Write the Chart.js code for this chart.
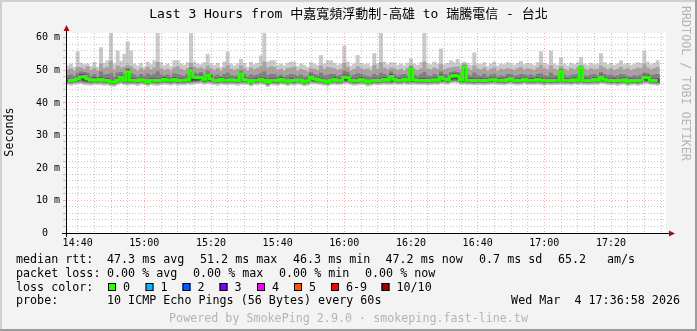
<!DOCTYPE html>
<html>
<head>
<meta charset="utf-8">
<script src="https://cdn.jsdelivr.net/npm/chart.js@4.4.1/dist/chart.umd.min.js"></script>
<style>
  html, body { margin: 0; padding: 0; background: #f3f3f3; }
  #wrap { width: 697px; height: 331px; }
</style>
</head>
<body>
<div id="wrap"><canvas id="grafico" width="697" height="331"></canvas></div>
<script>
// one slot per minute, 14:37 .. 17:36
const START_MIN = 14 * 60 + 37;
const SLOTS = 180;
const X_TICKS = ['14:40', '15:00', '15:20', '15:40', '16:00', '16:20', '16:40', '17:00', '17:20'];
const Y_TICKS = [0, 10, 20, 30, 40, 50, 60];
const Y_MINOR_STEP = 2;

// median rtt (ms)
const MEDIAN = [
  46.9, 46.9, 47.1, 47.4, 48.0, 48.1, 47.4, 47.0, 47.1, 47.0, 47.2, 47.0, 46.9, 46.5, 46.4, 47.0, 47.9, 47.0, 49.6, 47.0,
  47.0, 46.8, 47.1, 47.0, 46.6, 47.0, 47.0, 46.8, 47.0, 47.2, 47.0, 47.0, 47.2, 46.9, 47.0, 47.0, 47.1, 50.0, 48.0, 47.8,
  48.0, 47.3, 48.6, 47.4, 47.0, 46.9, 47.2, 47.0, 47.0, 47.1, 47.0, 46.9, 49.0, 47.2, 47.0, 46.6, 47.0, 47.0, 47.3, 47.0,
  46.4, 47.0, 47.0, 46.8, 47.2, 47.0, 46.7, 47.0, 46.9, 47.1, 47.0, 46.6, 46.8, 48.0, 47.4, 47.2, 47.0, 46.8, 46.6, 47.0,
  47.2, 46.9, 47.0, 48.0, 47.8, 47.0, 46.8, 46.9, 47.2, 47.0, 46.6, 46.8, 47.0, 46.9, 47.0, 47.2, 47.0, 48.1, 47.3, 47.0,
  47.0, 47.3, 47.0, 50.4, 47.1, 47.0, 47.0, 47.0, 46.9, 47.0, 47.1, 47.0, 48.0, 47.4, 47.2, 48.2, 48.4, 48.3, 47.2, 51.1,
  47.0, 47.0, 46.9, 47.0, 47.0, 46.9, 47.0, 47.1, 47.3, 47.0, 47.0, 46.9, 47.2, 47.5, 47.0, 46.9, 47.0, 47.3, 47.0, 47.0,
  47.0, 47.2, 47.0, 46.8, 47.0, 46.9, 47.0, 47.0, 49.7, 47.0, 47.0, 46.9, 47.1, 47.0, 50.8, 47.0, 46.9, 47.0, 47.2, 47.0,
  48.0, 47.3, 47.0, 46.9, 47.0, 46.8, 47.0, 47.1, 46.7, 46.9, 47.0, 46.8, 47.0, 48.0, 47.8, 47.0, 46.9, 46.8, null, null
];

// sorted pings per minute (ms): max, 9th, 8th, 7th, 4th, 3rd, 2nd, min
const PING_MAX = [
  51.5, 52.0, 51.0, 55.7, 52.3, 51.8, 52.0, 51.2, 52.5, 51.0, 57.0, 52.2, 53.0, 61.6, 52.0, 56.0, 52.8, 55.0, 58.8, 56.0,
  52.0, 51.4, 52.2, 51.0, 52.6, 51.8, 53.0, 61.6, 52.4, 51.5, 52.0, 51.2, 53.0, 53.0, 52.0, 51.6, 52.4, 61.6, 52.6, 52.0,
  51.8, 52.4, 55.0, 52.0, 51.5, 52.2, 51.0, 52.6, 55.7, 52.0, 51.4, 52.0, 53.4, 52.2, 51.0, 52.5, 51.8, 52.2, 54.5, 61.6,
  52.6, 53.0, 53.0, 51.6, 52.0, 51.4, 52.2, 52.6, 52.6, 51.2, 52.0, 51.6, 51.0, 52.4, 52.0, 51.5, 54.6, 52.0, 53.0, 53.0,
  52.2, 51.6, 52.0, 57.5, 52.6, 51.4, 52.0, 54.6, 52.2, 51.8, 52.0, 51.2, 55.2, 52.0, 61.6, 52.6, 51.8, 52.4, 52.3, 51.6,
  52.0, 51.4, 52.2, 53.6, 52.0, 51.6, 52.4, 61.6, 52.0, 51.8, 52.6, 52.0, 56.6, 51.8, 52.2, 53.0, 52.4, 53.4, 52.0, 52.6,
  52.2, 51.6, 55.4, 52.0, 51.8, 52.4, 51.2, 52.0, 52.6, 51.4, 52.0, 51.8, 52.4, 52.0, 51.6, 52.2, 52.8, 51.8, 52.2, 52.0,
  51.6, 52.4, 55.8, 52.2, 51.8, 56.0, 52.0, 51.6, 53.9, 52.0, 51.4, 52.2, 51.8, 52.4, 54.0, 52.0, 51.6, 52.2, 51.8, 52.0,
  55.2, 52.4, 51.8, 52.2, 51.6, 52.0, 53.0, 51.8, 52.2, 51.6, 52.0, 52.4, 52.2, 56.0, 52.6, 51.8, 52.2, 53.0, null, null
];
const PING_9 = [
  50.2, 50.5, 49.8, 51.0, 50.8, 50.4, 51.2, 50.0, 50.6, 49.8, 52.0, 50.6, 51.0, 52.8, 50.2, 51.4, 50.8, 51.0, 51.6, 51.2,
  50.4, 49.8, 50.6, 50.0, 51.0, 50.2, 50.8, 52.5, 50.6, 50.0, 50.4, 49.8, 50.8, 51.2, 50.4, 50.0, 50.6, 52.2, 51.0, 50.6,
  50.8, 50.4, 51.4, 50.6, 50.0, 50.6, 49.8, 50.8, 51.6, 50.4, 50.0, 50.4, 51.4, 50.6, 49.8, 50.8, 50.2, 50.6, 51.2, 52.6,
  50.8, 51.2, 51.0, 50.0, 50.4, 49.8, 50.6, 50.8, 51.0, 49.8, 50.4, 50.0, 49.6, 50.6, 50.4, 50.0, 51.4, 50.4, 51.0, 50.8,
  50.6, 50.0, 50.4, 52.2, 51.0, 49.8, 50.4, 51.2, 50.6, 50.2, 50.4, 49.8, 51.6, 50.4, 52.4, 50.8, 50.2, 50.8, 50.6, 50.0,
  50.4, 49.8, 50.6, 51.6, 50.4, 50.0, 50.6, 52.6, 50.4, 50.2, 50.8, 50.4, 51.8, 50.2, 50.6, 50.8, 51.0, 51.2, 50.4, 52.0,
  50.6, 50.0, 51.4, 50.4, 50.2, 50.8, 49.8, 50.4, 50.8, 49.8, 50.4, 50.2, 50.6, 50.4, 50.0, 50.6, 51.0, 50.2, 50.6, 50.4,
  50.0, 50.8, 51.6, 50.6, 50.2, 51.4, 50.4, 50.0, 51.2, 50.4, 49.8, 50.6, 50.2, 50.8, 51.6, 50.4, 50.0, 50.6, 50.2, 50.4,
  51.4, 50.8, 50.2, 50.6, 50.0, 50.4, 51.0, 50.2, 50.6, 50.0, 50.4, 50.8, 50.6, 51.8, 50.8, 50.2, 50.6, 51.0, null, null
];
const PING_8 = [
  48.4, 48.6, 48.2, 49.0, 49.6, 49.4, 49.2, 48.2, 48.8, 48.0, 49.6, 48.6, 48.8, 49.0, 48.0, 49.2, 49.4, 48.8, 50.6, 49.0,
  48.6, 48.0, 48.8, 48.2, 49.0, 48.4, 48.8, 49.6, 48.6, 48.2, 48.6, 48.0, 49.0, 48.8, 48.4, 48.2, 48.8, 50.8, 49.2, 49.0,
  49.4, 48.6, 49.8, 48.8, 48.2, 48.6, 48.0, 48.8, 49.2, 48.4, 48.2, 48.4, 49.8, 48.8, 48.0, 48.6, 48.4, 48.6, 49.0, 49.6,
  48.4, 48.8, 48.8, 48.2, 48.6, 48.0, 48.4, 48.8, 48.6, 48.2, 48.6, 48.0, 48.2, 49.4, 48.8, 48.4, 49.2, 48.4, 48.6, 48.8,
  48.8, 48.2, 48.6, 49.8, 49.4, 48.2, 48.6, 49.0, 48.8, 48.4, 48.2, 48.0, 48.8, 48.4, 49.2, 48.8, 48.4, 49.6, 48.8, 48.2,
  48.6, 48.8, 48.4, 51.0, 48.6, 48.2, 48.8, 49.4, 48.4, 48.2, 48.8, 48.4, 49.6, 48.8, 48.6, 49.4, 49.6, 49.4, 48.6, 51.6,
  48.6, 48.2, 49.2, 48.4, 48.2, 48.8, 48.0, 48.6, 48.8, 48.0, 48.4, 48.2, 48.8, 48.8, 48.2, 48.4, 48.8, 48.6, 48.4, 48.6,
  48.2, 48.8, 49.0, 48.4, 48.2, 49.2, 48.4, 48.2, 50.4, 48.6, 48.0, 48.4, 48.6, 48.8, 51.2, 48.4, 48.2, 48.6, 48.8, 48.4,
  49.4, 48.8, 48.4, 48.6, 48.2, 48.4, 48.8, 48.6, 48.2, 48.0, 48.4, 48.2, 48.6, 49.2, 49.0, 48.4, 48.6, 48.8, null, null
];
const PING_7 = [
  47.4, 47.3, 47.6, 48.0, 48.8, 48.7, 47.8, 47.4, 47.8, 47.4, 47.8, 47.4, 47.5, 47.0, 46.9, 47.6, 48.4, 47.6, 50.2, 47.6,
  47.5, 47.2, 47.6, 47.4, 47.2, 47.6, 47.5, 47.4, 47.5, 47.8, 47.4, 47.4, 47.8, 47.4, 47.5, 47.4, 47.6, 50.4, 48.5, 48.3,
  48.6, 47.8, 49.0, 48.0, 47.5, 47.4, 47.8, 47.5, 47.6, 47.6, 47.4, 47.4, 49.4, 47.8, 47.4, 47.2, 47.5, 47.6, 47.8, 47.6,
  47.0, 47.6, 47.5, 47.3, 47.8, 47.4, 47.2, 47.6, 47.4, 47.6, 47.4, 47.2, 47.3, 48.6, 48.0, 47.7, 47.6, 47.3, 47.2, 47.5,
  47.8, 47.4, 47.5, 48.6, 48.4, 47.5, 47.3, 47.5, 47.8, 47.5, 47.2, 47.3, 47.5, 47.4, 47.6, 47.8, 47.5, 48.8, 47.9, 47.5,
  47.6, 47.8, 47.5, 50.8, 47.7, 47.5, 47.6, 47.6, 47.4, 47.5, 47.7, 47.5, 48.6, 48.0, 47.8, 48.8, 49.0, 48.9, 47.8, 51.4,
  47.5, 47.6, 47.5, 47.5, 47.6, 47.4, 47.5, 47.7, 47.8, 47.5, 47.5, 47.4, 47.8, 48.0, 47.5, 47.4, 47.6, 47.8, 47.5, 47.6,
  47.5, 47.8, 47.6, 47.3, 47.5, 47.5, 47.5, 47.6, 50.1, 47.5, 47.5, 47.4, 47.7, 47.5, 51.0, 47.6, 47.4, 47.5, 47.8, 47.5,
  48.6, 47.9, 47.5, 47.4, 47.6, 47.3, 47.6, 47.7, 47.2, 47.5, 47.5, 47.3, 47.6, 48.6, 48.4, 47.5, 47.4, 47.4, null, null
];
const PING_4 = [
  46.6, 46.6, 46.8, 47.0, 47.2, 46.8, 46.7, 46.6, 46.7, 46.6, 46.8, 46.6, 46.5, 46.2, 46.1, 46.6, 47.0, 46.6, 46.6, 46.6,
  46.6, 46.4, 46.7, 46.6, 46.2, 46.6, 46.6, 46.4, 46.6, 46.8, 46.6, 46.6, 46.8, 46.5, 46.6, 46.6, 46.7, 46.8, 46.9, 47.0,
  47.2, 46.8, 47.0, 46.9, 46.6, 46.5, 46.8, 46.6, 46.6, 46.7, 46.6, 46.5, 46.8, 46.8, 46.6, 46.2, 46.6, 46.6, 46.9, 46.6,
  46.0, 46.6, 46.6, 46.4, 46.8, 46.6, 46.3, 46.6, 46.5, 46.7, 46.6, 46.2, 46.4, 47.0, 46.9, 46.8, 46.6, 46.4, 46.2, 46.6,
  46.8, 46.5, 46.6, 47.0, 47.0, 46.6, 46.4, 46.5, 46.8, 46.6, 46.2, 46.4, 46.6, 46.5, 46.6, 46.8, 46.6, 46.6, 46.9, 46.6,
  46.6, 46.9, 46.6, 46.7, 46.7, 46.6, 46.6, 46.6, 46.5, 46.6, 46.7, 46.6, 47.0, 47.0, 46.8, 47.2, 47.4, 47.3, 46.8, 46.8,
  46.6, 46.6, 46.5, 46.6, 46.6, 46.5, 46.6, 46.7, 46.9, 46.6, 46.6, 46.5, 46.8, 47.0, 46.6, 46.5, 46.6, 46.9, 46.6, 46.6,
  46.6, 46.8, 46.6, 46.4, 46.6, 46.5, 46.6, 46.6, 46.7, 46.6, 46.6, 46.5, 46.7, 46.6, 46.8, 46.6, 46.5, 46.6, 46.8, 46.6,
  47.0, 46.9, 46.6, 46.5, 46.6, 46.4, 46.6, 46.7, 46.3, 46.5, 46.6, 46.4, 46.6, 47.0, 47.0, 46.6, 46.5, 46.4, null, null
];
const PING_3 = [
  46.3, 46.2, 46.4, 46.5, 46.6, 46.4, 46.3, 46.2, 46.4, 46.3, 46.4, 46.2, 46.2, 45.9, 45.8, 46.3, 46.6, 46.3, 46.2, 46.3,
  46.3, 46.1, 46.4, 46.3, 45.9, 46.3, 46.2, 46.1, 46.3, 46.4, 46.3, 46.2, 46.4, 46.2, 46.3, 46.2, 46.4, 46.4, 46.5, 46.6,
  46.8, 46.4, 46.6, 46.5, 46.3, 46.2, 46.4, 46.3, 46.3, 46.4, 46.3, 46.2, 46.4, 46.4, 46.3, 45.9, 46.3, 46.3, 46.5, 46.3,
  45.7, 46.3, 46.2, 46.1, 46.4, 46.3, 46.0, 46.3, 46.2, 46.4, 46.3, 45.9, 46.1, 46.6, 46.5, 46.4, 46.3, 46.1, 45.9, 46.3,
  46.4, 46.2, 46.3, 46.6, 46.6, 46.3, 46.1, 46.2, 46.4, 46.3, 45.9, 46.1, 46.3, 46.2, 46.3, 46.4, 46.3, 46.3, 46.5, 46.3,
  46.3, 46.5, 46.3, 46.4, 46.4, 46.3, 46.3, 46.3, 46.2, 46.3, 46.4, 46.3, 46.6, 46.6, 46.4, 46.8, 46.9, 46.8, 46.4, 46.4,
  46.3, 46.3, 46.2, 46.3, 46.3, 46.2, 46.3, 46.4, 46.5, 46.3, 46.3, 46.2, 46.4, 46.6, 46.3, 46.2, 46.3, 46.5, 46.3, 46.3,
  46.3, 46.4, 46.3, 46.1, 46.3, 46.2, 46.3, 46.3, 46.4, 46.3, 46.3, 46.2, 46.4, 46.3, 46.4, 46.3, 46.2, 46.3, 46.4, 46.3,
  46.6, 46.5, 46.3, 46.2, 46.3, 46.1, 46.3, 46.4, 46.0, 46.2, 46.3, 46.1, 46.3, 46.6, 46.6, 46.3, 46.2, 46.1, null, null
];
const PING_2 = [
  46.0, 45.9, 46.1, 46.2, 46.3, 46.1, 46.0, 45.9, 46.1, 46.0, 46.1, 45.9, 45.9, 45.6, 45.5, 46.0, 46.3, 46.0, 45.9, 46.0,
  46.0, 45.8, 46.1, 46.0, 45.6, 46.0, 45.9, 45.8, 46.0, 46.1, 46.0, 45.9, 46.1, 45.9, 46.0, 45.9, 46.1, 46.1, 46.2, 46.3,
  46.4, 46.1, 46.3, 46.2, 46.0, 45.9, 46.1, 46.0, 46.0, 46.1, 46.0, 45.9, 46.1, 46.1, 46.0, 45.6, 46.0, 46.0, 46.2, 46.0,
  45.4, 46.0, 45.9, 45.8, 46.1, 46.0, 45.7, 46.0, 45.9, 46.1, 46.0, 45.6, 45.8, 46.3, 46.2, 46.1, 46.0, 45.8, 45.6, 46.0,
  46.1, 45.9, 46.0, 46.3, 46.3, 46.0, 45.8, 45.9, 46.1, 46.0, 45.6, 45.8, 46.0, 45.9, 46.0, 46.1, 46.0, 46.0, 46.2, 46.0,
  46.0, 46.2, 46.0, 46.1, 46.1, 46.0, 46.0, 46.0, 45.9, 46.0, 46.1, 46.0, 46.3, 46.3, 46.1, 46.5, 46.6, 46.5, 46.1, 46.1,
  46.0, 46.0, 45.9, 46.0, 46.0, 45.9, 46.0, 46.1, 46.2, 46.0, 46.0, 45.9, 46.1, 46.3, 46.0, 45.9, 46.0, 46.2, 46.0, 46.0,
  46.0, 46.1, 46.0, 45.8, 46.0, 45.9, 46.0, 46.0, 46.1, 46.0, 46.0, 45.9, 46.1, 46.0, 46.1, 46.0, 45.9, 46.0, 46.1, 46.0,
  46.3, 46.2, 46.0, 45.9, 46.0, 45.8, 46.0, 46.1, 45.7, 45.9, 46.0, 45.8, 46.0, 46.3, 46.3, 46.0, 45.9, 45.8, null, null
];
const PING_MIN = [
  45.6, 45.4, 45.7, 45.8, 45.9, 45.6, 45.5, 45.4, 45.7, 45.6, 45.6, 45.4, 45.5, 45.2, 45.1, 45.6, 45.9, 45.6, 45.4, 45.6,
  45.6, 45.3, 45.7, 45.6, 45.2, 45.6, 45.4, 45.3, 45.6, 45.7, 45.6, 45.4, 45.7, 45.4, 45.6, 45.5, 45.7, 45.6, 45.8, 45.9,
  46.0, 45.7, 45.9, 45.8, 45.6, 45.4, 45.7, 45.6, 45.5, 45.7, 45.6, 45.4, 45.7, 45.7, 45.6, 45.2, 45.6, 45.5, 45.8, 45.6,
  45.0, 45.6, 45.5, 45.4, 45.7, 45.6, 45.3, 45.6, 45.4, 45.7, 45.6, 45.2, 45.4, 45.9, 45.8, 45.7, 45.6, 45.4, 45.2, 45.6,
  45.7, 45.5, 45.6, 45.9, 45.9, 45.6, 45.4, 45.5, 45.7, 45.6, 45.2, 45.4, 45.6, 45.5, 45.6, 45.7, 45.6, 45.6, 45.8, 45.6,
  45.6, 45.8, 45.6, 45.7, 45.7, 45.6, 45.6, 45.6, 45.5, 45.6, 45.7, 45.6, 45.9, 45.9, 45.7, 46.1, 46.2, 46.1, 45.7, 45.7,
  45.6, 45.6, 45.5, 45.6, 45.6, 45.5, 45.6, 45.7, 45.8, 45.6, 45.6, 45.5, 45.7, 45.9, 45.6, 45.5, 45.6, 45.8, 45.6, 45.6,
  45.6, 45.7, 45.6, 45.4, 45.6, 45.5, 45.6, 45.6, 45.7, 45.6, 45.6, 45.5, 45.7, 45.6, 45.7, 45.6, 45.5, 45.6, 45.7, 45.6,
  45.9, 45.8, 45.6, 45.5, 45.6, 45.4, 45.6, 45.7, 45.3, 45.5, 45.6, 45.4, 45.6, 45.9, 45.9, 45.6, 45.5, 45.4, null, null
];

const LOSS_LABELS = ['0', '1', '2', '3', '4', '5', '6-9', '10/10'];
const LOSS_COLORS = ['#26ff00', '#00b8ff', '#0059ff', '#7e00ff', '#ff00ff', '#ff5500', '#ff0000', '#a10000'];

const TITLE = 'Last 3 Hours from 中嘉寬頻浮動制-高雄 to 瑞騰電信 - 台北';
const FONT = "'DejaVu Sans Mono', 'Noto Sans CJK TC', monospace";

const LABELS = [];
for (let i = 0; i < SLOTS; i++) {
  const m = START_MIN + i;
  LABELS.push(String(Math.floor(m / 60)).padStart(2, '0') + ':' + String(m % 60).padStart(2, '0'));
}

function band(lo, hi) {
  return lo.map((v, i) => (v == null || hi[i] == null) ? null : [v, hi[i]]);
}

function minuteOf(label) { return +label.slice(3); }

const rrdFrame = {
  id: 'rrdFrame',
  beforeDraw(chart) {
    const {ctx, chartArea: a, width, height} = chart;
    ctx.save();
    ctx.fillStyle = '#f3f3f3';
    ctx.fillRect(0, 0, width, height);
    ctx.fillStyle = '#ffffff';
    ctx.fillRect(a.left, a.top, a.right - a.left, a.bottom - a.top);
    ctx.restore();
  },
  afterDraw(chart) {
    const {ctx, chartArea: a, width, height} = chart;
    ctx.save();

    // axes with arrows
    ctx.strokeStyle = '#000';
    ctx.lineWidth = 1;
    ctx.beginPath();
    ctx.moveTo(a.left - 4, a.bottom + 0.5);
    ctx.lineTo(a.right + 4, a.bottom + 0.5);
    ctx.moveTo(a.left + 0.5, a.bottom + 4);
    ctx.lineTo(a.left + 0.5, a.top - 2);
    ctx.stroke();
    ctx.fillStyle = '#a01010';
    ctx.beginPath();
    ctx.moveTo(a.right + 9, a.bottom + 0.5);
    ctx.lineTo(a.right + 3, a.bottom - 2.5);
    ctx.lineTo(a.right + 3, a.bottom + 3.5);
    ctx.fill();
    ctx.beginPath();
    ctx.moveTo(a.left + 0.5, a.top - 8);
    ctx.lineTo(a.left - 2.5, a.top - 2);
    ctx.lineTo(a.left + 3.5, a.top - 2);
    ctx.fill();

    // title
    ctx.fillStyle = '#000';
    ctx.textBaseline = 'middle';
    ctx.textAlign = 'center';
    ctx.font = '13px ' + FONT;
    ctx.fillText(TITLE, 348.5, 15);

    // y axis title
    ctx.font = '11.7px ' + FONT;
    ctx.save();
    ctx.translate(10, 132);
    ctx.rotate(-Math.PI / 2);
    ctx.fillText('Seconds', 0, 0);
    ctx.restore();

    // right side credit
    ctx.save();
    ctx.fillStyle = '#b4b4b4';
    ctx.translate(685, 6);
    ctx.rotate(Math.PI / 2);
    ctx.textAlign = 'left';
    ctx.fillText('RRDTOOL / TOBI OETIKER', 0, 0);
    ctx.restore();

    // legend rows
    ctx.textAlign = 'left';
    const rows = [
      [259.5, [[16, 'median rtt:'], [107, '47.3 ms avg'], [200, '51.2 ms max'], [293, '46.3 ms min'], [385.5, '47.2 ms now'], [479, '0.7 ms sd'], [558, '65.2'], [607, 'am/s']]],
      [273.5, [[16, 'packet loss:'], [107, '0.00 % avg'], [193, '0.00 % max'], [279, '0.00 % min'], [365, '0.00 % now']]],
      [287.5, [[16, 'loss color:']]],
      [301, [[16, 'probe:'], [107, '10 ICMP Echo Pings (56 Bytes) every 60s']]]
    ];
    rows.forEach(([y, parts]) => parts.forEach(([x, t]) => ctx.fillText(t, x, y)));

    const boxX = [108, 145.5, 182.5, 219.5, 257, 294, 331, 381.5];
    LOSS_LABELS.forEach((lab, i) => {
      ctx.fillStyle = LOSS_COLORS[i];
      ctx.fillRect(boxX[i], 283, 8, 8);
      ctx.strokeStyle = '#000';
      ctx.strokeRect(boxX[i] + 0.5, 283.5, 7, 7);
      ctx.fillStyle = '#000';
      ctx.fillText(lab, boxX[i] + 15, 287.5);
    });

    ctx.textAlign = 'right';
    ctx.fillText('Wed Mar  4 17:36:58 2026', 680, 301);

    ctx.textAlign = 'center';
    ctx.fillStyle = '#b4b4b4';
    ctx.fillText('Powered by SmokePing 2.9.0 · smokeping.fast-line.tw', 348.5, 318.5);

    // frame
    ctx.fillStyle = '#cfcfcf';
    ctx.fillRect(0, 0, width, 2);
    ctx.fillRect(0, 0, 2, height);
    ctx.fillStyle = '#9c9c9c';
    ctx.fillRect(0, height - 2, width, 2);
    ctx.fillRect(width - 2, 0, 2, height);
    ctx.restore();
  }
};

const MAJOR = 'rgba(230,80,80,0.45)';
const MINOR = 'rgba(150,150,150,0.55)';

new Chart(document.getElementById('grafico'), {
  type: 'bar',
  data: {
    labels: LABELS,
    datasets: [
      { type: 'line', data: MEDIAN, borderColor: '#26ff00', borderWidth: 3, stepped: 'middle', pointRadius: 0, order: 0 },
      { data: band(PING_4, PING_7), backgroundColor: '#4c4c4c', order: 1 },
      { data: band(PING_3, PING_8), backgroundColor: '#7e7e7e', order: 2 },
      { data: band(PING_2, PING_9), backgroundColor: '#a4a4a4', order: 3 },
      { data: band(PING_MIN, PING_MAX), backgroundColor: '#cacaca', order: 4 }
    ]
  },
  options: {
    responsive: false,
    animation: false,
    events: [],
    font: { family: FONT },
    layout: { padding: { left: 0, right: 31, top: 33, bottom: 0 } },
    datasets: { bar: { grouped: false, barPercentage: 1, categoryPercentage: 1, borderWidth: 0 } },
    plugins: { legend: { display: false }, tooltip: { enabled: false }, title: { display: false } },
    scales: {
      x: {
        afterFit(s) { s.height = 98; },
        ticks: {
          autoSkip: false, maxRotation: 0, minRotation: 0, padding: 4, color: '#000',
          font: { family: FONT, size: 10 },
          callback: (v, i) => X_TICKS.includes(LABELS[i]) ? LABELS[i] : ''
        },
        grid: {
          offset: false, drawTicks: false, z: 1,
          color: c => {
            const m = minuteOf(LABELS[c.index] || '00:01');
            return m % 20 === 0 ? MAJOR : (m % 5 === 0 ? MINOR : 'rgba(0,0,0,0)');
          }
        },
        border: { display: false, dash: [1, 2] }
      },
      y: {
        min: 0, max: 61.5,
        afterFit(s) { s.width = 66; },
        afterBuildTicks(s) {
          const t = [];
          for (let v = 0; v <= Y_TICKS[Y_TICKS.length - 1]; v += Y_MINOR_STEP) t.push({ value: v });
          s.ticks = t;
        },
        ticks: {
          autoSkip: false, padding: 3, color: '#000',
          font: { family: FONT, size: 10 },
          callback: v => Y_TICKS.includes(v) ? (v === 0 ? '0\u00a0\u00a0' : v + ' m') : ''
        },
        grid: {
          z: 1, drawTicks: true, tickLength: 3,
          color: c => (c.tick && c.tick.value % 10 === 0) ? MAJOR : MINOR
        },
        border: { display: false, dash: [1, 2] }
      }
    }
  },
  plugins: [rrdFrame]
});
</script>
</body>
</html>
